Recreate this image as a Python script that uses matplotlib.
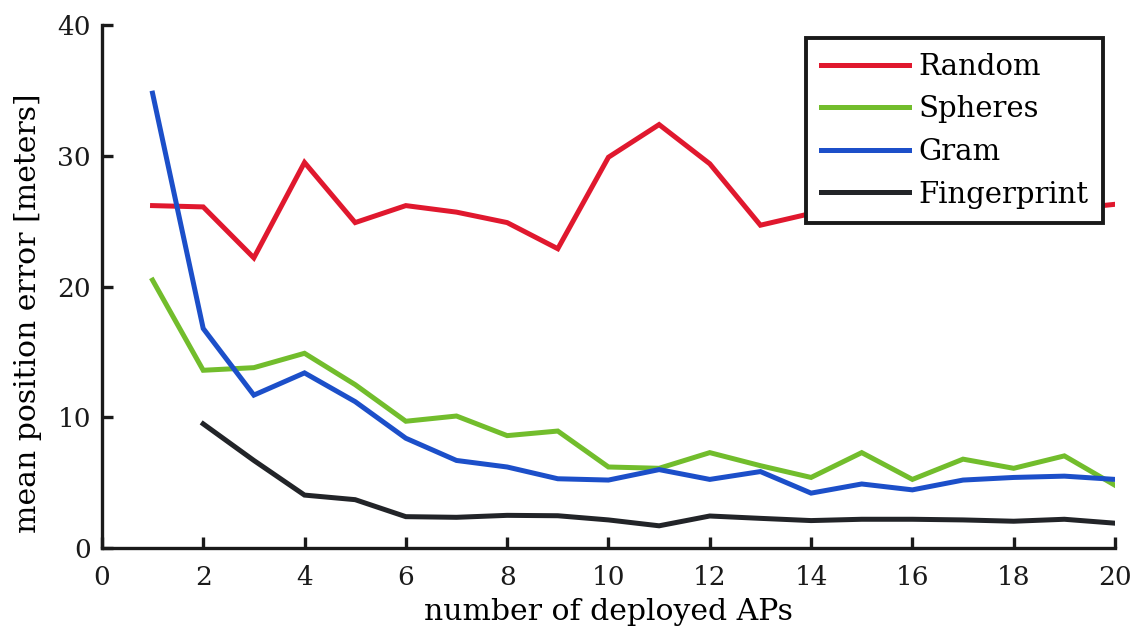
import matplotlib
matplotlib.use("Agg")
import matplotlib.pyplot as plt

x_all = list(range(1, 21))
x_fp = list(range(2, 21))

random_err = [26.2, 26.1, 22.2, 29.5, 24.9, 26.2, 25.7, 24.9, 22.9, 29.9,
              32.4, 29.4, 24.7, 25.6, 26.0, 26.8, 25.6, 26.4, 25.9, 26.3]
spheres_err = [20.5, 13.6, 13.8, 14.9, 12.5, 9.7, 10.1, 8.6, 8.95, 6.2,
               6.1, 7.3, 6.3, 5.4, 7.3, 5.25, 6.8, 6.1, 7.05, 4.8]
gram_err = [34.8, 16.8, 11.7, 13.4, 11.2, 8.4, 6.7, 6.2, 5.3, 5.2,
            6.0, 5.25, 5.85, 4.2, 4.9, 4.45, 5.2, 5.4, 5.5, 5.25]
fingerprint_err = [9.5, 6.7, 4.05, 3.7, 2.4, 2.35, 2.5, 2.47, 2.15,
                   1.7, 2.45, 2.27, 2.1, 2.2, 2.2, 2.15, 2.05, 2.2, 1.9]

labels = ["Random", "Spheres", "Gram", "Fingerprint"]
colors = ["#e0182e", "#72bd2c", "#1c4fc9", "#222428"]

plt.rcParams['font.family'] = ['DejaVu Serif']

fig = plt.figure(figsize=(11.32, 6.31), dpi=100)
ax = fig.add_axes([0.090, 0.1315, 0.895, 0.8285])

lw = 3.6
ax.plot(x_all, random_err, color=colors[0], lw=lw, label=labels[0], solid_joinstyle='miter')
ax.plot(x_all, spheres_err, color=colors[1], lw=lw, label=labels[1], solid_joinstyle='miter')
ax.plot(x_all, gram_err, color=colors[2], lw=lw, label=labels[2], solid_joinstyle='miter')
ax.plot(x_fp, fingerprint_err, color=colors[3], lw=lw, label=labels[3], solid_joinstyle='miter')

ax.set_xlim(0, 20)
ax.set_ylim(0, 40)
ax.set_xticks(range(0, 21, 2))
ax.set_yticks(range(0, 41, 10))

for s in ['top', 'right']:
    ax.spines[s].set_visible(False)
for s in ['left', 'bottom']:
    ax.spines[s].set_linewidth(2.4)
    ax.spines[s].set_color('#1a1a1a')

ax.tick_params(direction='in', length=8, width=2.4, labelsize=19, colors='#1a1a1a')
ax.tick_params(axis='x', pad=12)
ax.tick_params(axis='y', pad=8)

ax.set_xlabel("number of deployed APs", fontsize=21.5, labelpad=6)
ax.set_ylabel("mean position error [meters]", fontsize=21.5)
ax.yaxis.set_label_coords(-0.059, 0.45)

leg = ax.legend(loc='upper right', bbox_to_anchor=(0.9885, 0.975), fontsize=21,
                fancybox=False, framealpha=1, edgecolor='#1a1a1a',
                handlelength=3.0, handletextpad=0.35, borderpad=0.5, labelspacing=0.5,
                borderaxespad=0)
leg.get_frame().set_linewidth(2.8)

fig.savefig("out.png", dpi=100)
